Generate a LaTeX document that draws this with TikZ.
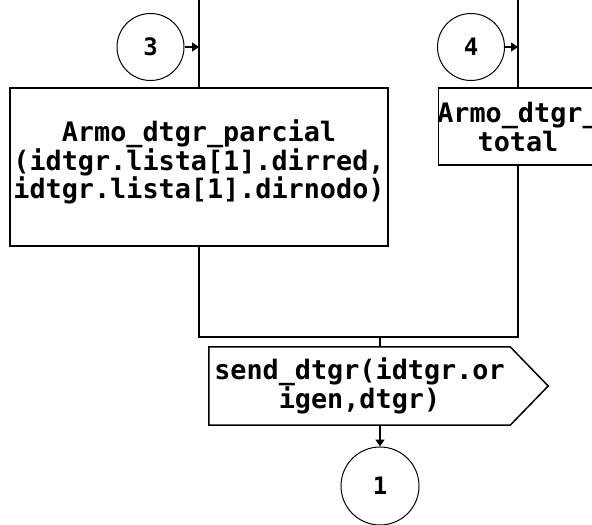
\documentclass[tikz,border=0pt]{standalone}
\usepackage{fontspec}
\setmonofont{DejaVu Sans Mono}
\usetikzlibrary{arrows.meta}
\begin{document}
\begin{tikzpicture}[x=1pt,y=-1pt,
  flow/.style={line width=1.5pt, black},
  tip/.style={flow, -{Triangle[length=7pt,width=9pt]}},
  conn/.style={circle, draw, line width=1pt, inner sep=0pt,
    font=\ttfamily\bfseries\fontsize{24}{24}\selectfont},
  proc/.style={draw, line width=1.5pt, inner sep=0pt},
  label/.style={draw=none, inner sep=0pt, align=center,
    font=\ttfamily\bfseries\fontsize{26.8}{27.5}\selectfont}
]
\useasboundingbox (0,0) rectangle (592,525);
\clip (0,0) rectangle (592,525);

% incoming flow lines
\coordinate (t1) at (199,0);
\coordinate (t2) at (518,0);

% connectors
\node[conn, minimum size=67pt] (c3) at (150.5,47) {3};
\node[conn, minimum size=67pt] (c4) at (471,47) {4};
\node[conn, minimum size=78pt] (c1) at (380,486) {1};

% processes
\node[proc, minimum width=378pt, minimum height=158pt] (p1) at (199,167) {};
\node[label] (p1t) at (199,162)
  {Armo\_dtgr\_parcial\\(idtgr.lista[1].dirred,\\idtgr.lista[1].dirnodo)};
\node[proc, minimum width=159pt, minimum height=77pt] (p2) at (518,126.5) {};
\node[label, font=\ttfamily\bfseries\fontsize{26.8}{29}\selectfont] (p2t) at (518,127.5)
  {Armo\_dtgr\_\\total};

% output (send) symbol
\node[label, minimum width=301pt, minimum height=78pt] (send) at (359.5,386)
  {send\_dtgr(idtgr.or\\igen,dtgr)};
\draw[flow] (send.north west) -- (send.north east) -- ([xshift=38pt]send.east)
  -- (send.south east) -- (send.south west) -- cycle;

% flow lines
\draw[flow] (t1) -- (p1.north);
\draw[flow] (t2) -- (p2.north);
\draw[tip] (c3.east) -- (c3.east -| p1.north);
\draw[tip] (c4.east) -- (c4.east -| p2.north);
\coordinate (m) at (380,337);
\draw[flow] (p1.south) -- (p1.south |- m) -- (p2.south |- m) -- (p2.south);
\draw[flow] (m) -- (m |- send.north);
\draw[tip] (c1 |- send.south) -- (c1.north);
\end{tikzpicture}
\end{document}
